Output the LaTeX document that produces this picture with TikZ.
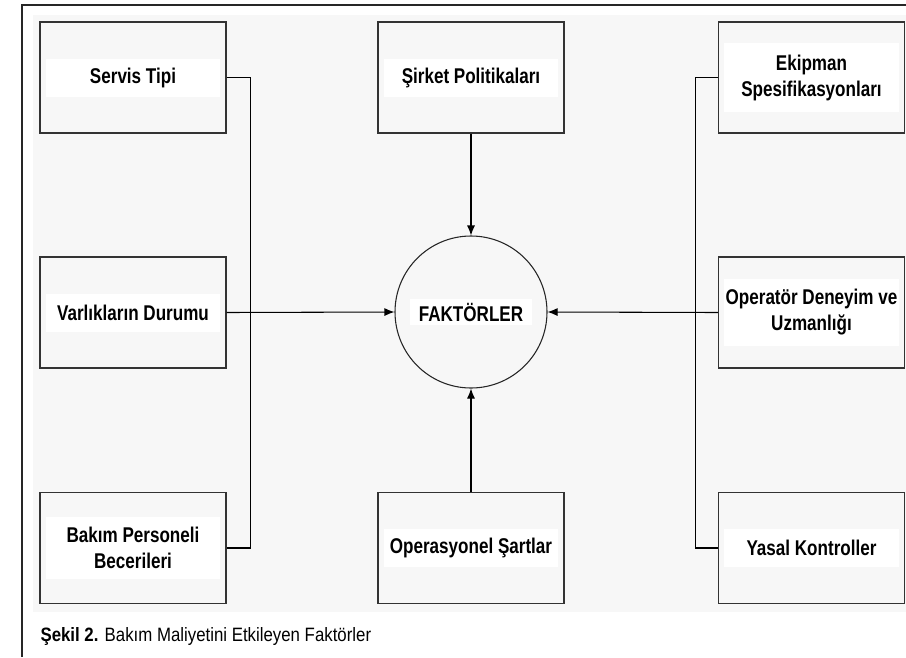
\documentclass[tikz,border=0pt]{standalone}
\usepackage{fontspec}
\setmainfont{Liberation Sans}[FakeStretch=0.87]
\newfontfamily\boxfont{Liberation Sans}[FakeStretch=0.8]
\usepackage{xcolor}
\usepackage{tikz}
\usetikzlibrary{arrows.meta}
\definecolor{bggray}{HTML}{F7F7F7}

\begin{document}
\begin{tikzpicture}[x=0.75pt,y=-0.75pt,>={Latex[length=7.5pt,width=6pt]},line width=0.8pt,
    factor/.style={draw=black!80,fill=bggray,minimum width=139.5pt,minimum height=83.25pt,inner sep=0pt},
    band/.style={fill=white,minimum width=131pt,minimum height=28.5pt,align=center,font=\boxfont\fontsize{16}{19.5}\selectfont\bfseries,inner sep=0pt}]
\useasboundingbox (0,0) rectangle (906,657);
% frame and background
\fill[bggray] (33,15) rectangle (906,612);
\draw[black!85] (22,657) coordinate (fbl) -- (22,5) coordinate (ftl) -- (906,5) coordinate (ftr);
% left column
\node[factor] (st) at (133,77.5) {};
\node[band] at (st) {Servis Tipi};
\node[factor] (vd) at (133,312.5) {};
\node[band] at (vd) {Varlıkların Durumu};
\node[factor] (bp) at (133,548) {};
\node[band,minimum height=46pt] at (bp) {Bakım Personeli\\Becerileri};
% middle column
\node[factor] (sp) at (471,77.5) {};
\node[band] at (sp) {Şirket Politikaları};
\node[draw=black!85,fill=bggray,circle,minimum size=114pt,inner sep=0pt] (fak) at (471,312) {};
\node[band,minimum width=92pt,minimum height=20pt] at (fak) {FAKTÖRLER};
\node[factor] (os) at (471,548) {};
\node[band] at (os) {Operasyonel Şartlar};
% right column
\node[factor] (es) at (811.5,77.5) {};
\node[band,minimum height=52pt] at (es) {Ekipman\\Spesifikasyonları};
\node[factor] (od) at (811.5,312.5) {};
\node[band,minimum height=50pt] at (od) {Operatör Deneyim ve\\Uzmanlığı};
\node[factor] (yk) at (811.5,548) {};
\node[band] at (yk) {Yasal Kontroller};
% connectors
\draw (st.east) -- ([xshift=18pt]st.east) |- (bp.east);
\draw [->] (vd.east) -- (fak.west);
\draw (es.west) -- ([xshift=-17pt]es.west) |- (yk.west);
\draw [->] (od.west) -- (fak.east);
\draw [->] (sp.south) -- (fak.north);
\draw [->] (os.north) -- (fak.south);
% caption
\node[anchor=base west,inner sep=0pt,font=\fontsize{14.5}{18}\selectfont] (cap) at (40,641)
    {\textbf{Şekil 2.} Bakım Maliyetini Etkileyen Faktörler};
\end{tikzpicture}
\end{document}
